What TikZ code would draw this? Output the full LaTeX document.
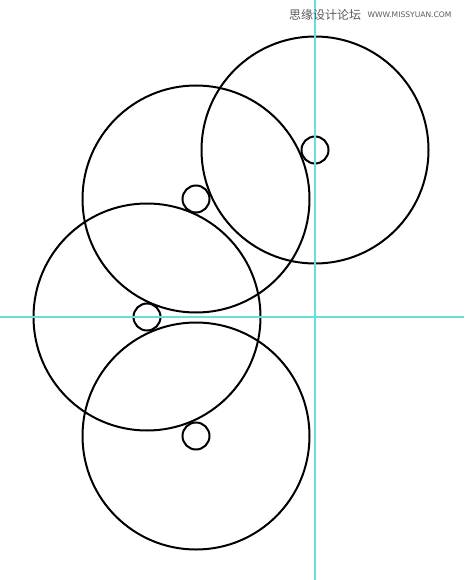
\documentclass[tikz,border=0pt]{standalone}
\usepackage{fontspec}
\newfontfamily\cjk{Noto Sans CJK SC}
\newfontfamily\urlfont{DejaVu Sans}
\definecolor{cyanrepere}{rgb}{0.4,0.87,0.87}
\definecolor{marque}{RGB}{90,90,90}
\tikzset{
	disque/.style={draw=black,line width=2pt},
	repere/.style={color=cyanrepere,line width=1.1pt},
}
\begin{document}
\begin{tikzpicture}[x=1pt,y=-1pt]
	\useasboundingbox[fill=white] (0,0) rectangle (464,580) ;
	\coordinate (A) at (315,150) ;
	\coordinate (B) at (196,199) ;
	\coordinate (C) at (147,317) ;
	\coordinate (D) at (196,436) ;
	\foreach \p in {A,B,C,D}{
		\draw[disque] (\p) circle[radius=113.5] ;
		\draw[disque] (\p) circle[radius=13.5] ;
	}
	\draw[repere] (315,0) -- (315,580) ;
	\draw[repere] (0,317) -- (464,317) ;
	\node[anchor=west,inner sep=0pt,text=marque,font=\cjk\fontsize{12}{12}\selectfont] (Titre) at (289,15) {思缘设计论坛} ;
	\node[anchor=west,inner sep=0pt,text=marque,font=\urlfont\fontsize{7.6}{8}\selectfont] (Site) at ([xshift=6pt]Titre.east) {WWW.MISSYUAN.COM} ;
\end{tikzpicture}
\end{document}
